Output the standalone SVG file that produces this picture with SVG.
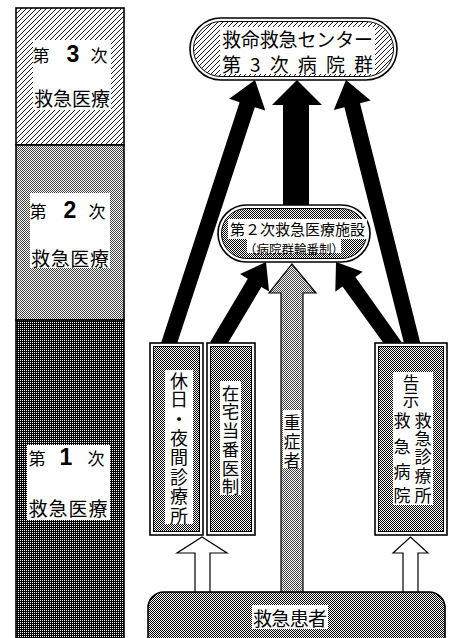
<svg xmlns="http://www.w3.org/2000/svg" width="450" height="638" viewBox="0 0 450 638">
<defs>
<pattern id="hatch" width="5" height="5" patternUnits="userSpaceOnUse">
<rect width="5" height="5" fill="#fff"/>
<path d="M-1,6 L6,-1 M-1,1 L1,-1 M4,6 L6,4" stroke="#000" stroke-width="0.9"/>
</pattern>
<pattern id="pL" width="2" height="2" patternUnits="userSpaceOnUse">
<rect width="2" height="2" fill="#fff"/>
<rect width="1" height="1" fill="#444"/>
<rect x="1" y="1" width="1" height="1" fill="#444"/>
</pattern>
<pattern id="pM" width="2" height="2" patternUnits="userSpaceOnUse">
<rect width="2" height="2" fill="#fff"/>
<rect width="1" height="1" fill="#000"/>
<rect x="1" y="1" width="1" height="1" fill="#000"/>
</pattern>
<pattern id="pD" width="2" height="2" patternUnits="userSpaceOnUse">
<rect width="2" height="2" fill="#000"/>
<rect width="1" height="1" fill="#fff"/>
</pattern>
</defs>
<style>
.jp{font-family:"Noto Sans CJK JP","Noto Sans CJK SC",sans-serif;fill:#000;dominant-baseline:central;text-anchor:middle}
.num{font-family:"Liberation Sans",Arial,sans-serif;font-weight:bold;fill:#000;dominant-baseline:central;text-anchor:middle}
.bg{fill:#fff}
.out{stroke:#000;stroke-width:1.6}
.in{stroke:#000;stroke-width:1}
.arrow{fill:#000}
.hollow{fill:#fff;stroke:#000;stroke-width:1.2}
</style>
<rect width="450" height="638" fill="#fff"/>

<!-- left column tiers -->
<g id="tier3">
<rect x="16" y="8" width="108" height="137" fill="url(#hatch)" class="out"/>
<rect x="33" y="40" width="78" height="70" class="bg"/>
<text class="jp" x="41" y="54" font-size="17">第</text>
<text class="num" x="73" y="54" font-size="23">3</text>
<text class="jp" x="99" y="54" font-size="17">次</text>
<text class="jp" x="72" y="97" font-size="19" textLength="76" lengthAdjust="spacing">救急医療</text>
</g>
<g id="tier2">
<rect x="16" y="145" width="108" height="175" fill="url(#pL)" class="out"/>
<rect x="30" y="193" width="80" height="75" class="bg"/>
<text class="jp" x="38" y="210" font-size="17">第</text>
<text class="num" x="70" y="210" font-size="23">2</text>
<text class="jp" x="97" y="210" font-size="17">次</text>
<text class="jp" x="70" y="257" font-size="19" textLength="78" lengthAdjust="spacing">救急医療</text>
</g>
<g id="tier1">
<rect x="16" y="320" width="108" height="330" fill="url(#pD)" class="out"/>
<rect x="27" y="445" width="83" height="75" class="bg"/>
<text class="jp" x="37" y="457" font-size="17">第</text>
<text class="num" x="66" y="457" font-size="23">1</text>
<text class="jp" x="96" y="457" font-size="17">次</text>
<text class="jp" x="68" y="507" font-size="19" textLength="79" lengthAdjust="spacing">救急医療</text>
</g>

<!-- connectors -->
<g id="connectors">
<polygon class="arrow" points="160.4,345 239.6,102.2 229.2,98.8 255,80 265.3,110.6 254.8,107.2 175.6,348"/>
<polygon class="arrow" points="283,210 283,105 272,105 297,80 322,105 309,105 309,210"/>
<polygon class="arrow" points="405.2,348 344.4,107.2 333.8,109.9 346,80 370.6,100.5 360,103.2 420.8,345"/>
<polygon class="arrow" points="210.2,342 247.8,278.7 240.1,274 266,262 269.1,291.6 261.4,286.9 223.8,350"/>
<polygon class="arrow" points="388.5,350 342.5,286.5 335.3,291.8 336,262 362.7,271.8 355.4,277.1 401.5,342"/>
<polygon fill="url(#pL)" stroke="#000" stroke-width="1.2" points="281,600 281,293 269,293 292,264 316,293 303,293 303,600"/>
<rect x="283" y="410" width="18" height="58" class="bg"/>
<text class="jp" font-size="17"><tspan x="292" y="421">重</tspan><tspan x="292" y="440">症</tspan><tspan x="292" y="459">者</tspan></text>
<polygon class="hollow" points="195,600 195,553 177,553 202,537 227,553 210,553 210,600"/>
<polygon class="hollow" points="403,600 403,553 393,553 410.5,537 428,553 418,553 418,600"/>
</g>

<!-- top node -->
<g id="node-3rd">
<rect x="190" y="18" width="207" height="62" rx="31" fill="#fff" class="out"/>
<rect x="193.5" y="21.5" width="200" height="55" rx="27.5" fill="url(#hatch)" class="in"/>
<rect x="220" y="27" width="155" height="47" class="bg"/>
<text class="jp" x="297.5" y="38" font-size="19" textLength="151" lengthAdjust="spacing">救命救急センター</text>
<text class="jp" x="297.5" y="63" font-size="19" textLength="151" lengthAdjust="spacing">第 3 次 病 院 群</text>
</g>

<!-- second node -->
<g id="node-2nd">
<rect x="218" y="205" width="152" height="57" rx="28.5" fill="#fff" class="out"/>
<rect x="221.5" y="208.5" width="145" height="50" rx="25" fill="url(#pM)" class="in"/>
<rect x="228" y="219" width="139" height="20" class="bg"/>
<rect x="247" y="239" width="94" height="14" class="bg"/>
<text class="jp" x="297.5" y="228.5" font-size="15" textLength="135" lengthAdjust="spacing">第２次救急医療施設</text>
<text class="jp" x="294" y="248" font-size="12.5">（病院群輪番制）</text>
</g>

<!-- bottom boxes -->
<g id="box-kyujitsu">
<rect x="150" y="343" width="53" height="192" fill="#fff" class="out"/>
<rect x="153.5" y="346.5" width="46" height="185" fill="url(#pM)" class="in"/>
<rect x="165" y="370" width="28" height="154" class="bg"/>
<text class="jp" font-size="18"><tspan x="179" y="380">休</tspan><tspan x="179" y="398">日</tspan><tspan x="179" y="418">・</tspan><tspan x="179" y="437">夜</tspan><tspan x="179" y="456">間</tspan><tspan x="179" y="476">診</tspan><tspan x="179" y="495">療</tspan><tspan x="179" y="515">所</tspan></text>
</g>
<g id="box-zaitaku">
<rect x="207" y="343" width="48" height="192" fill="#fff" class="out"/>
<rect x="210.5" y="346.5" width="41" height="185" fill="url(#pM)" class="in"/>
<rect x="220" y="381" width="21" height="114" class="bg"/>
<text class="jp" font-size="17.5"><tspan x="230.5" y="392">在</tspan><tspan x="230.5" y="410">宅</tspan><tspan x="230.5" y="429">当</tspan><tspan x="230.5" y="448">番</tspan><tspan x="230.5" y="467">医</tspan><tspan x="230.5" y="485">制</tspan></text>
</g>
<g id="box-kokuji">
<rect x="375" y="343" width="72" height="192" fill="#fff" class="out"/>
<rect x="378.5" y="346.5" width="65" height="185" fill="url(#pM)" class="in"/>
<rect x="393" y="372" width="40" height="133" class="bg"/>
<text class="jp" font-size="16.5"><tspan x="411" y="382">告</tspan><tspan x="411" y="399">示</tspan></text>
<text class="jp" font-size="17"><tspan x="402" y="419">救</tspan><tspan x="402" y="445">急</tspan><tspan x="402" y="470">病</tspan><tspan x="402" y="494">院</tspan></text>
<text class="jp" font-size="17"><tspan x="423" y="419">救</tspan><tspan x="423" y="437">急</tspan><tspan x="423" y="455">診</tspan><tspan x="423" y="474">療</tspan><tspan x="423" y="494">所</tspan></text>
</g>

<!-- patient node -->
<g id="node-patient">
<rect x="148" y="592" width="297" height="80" rx="16" fill="url(#pM)" class="out"/>
<rect x="252" y="605" width="76" height="24" class="bg"/>
<text class="jp" x="290" y="617" font-size="19" textLength="74" lengthAdjust="spacing">救急患者</text>
</g>
</svg>
